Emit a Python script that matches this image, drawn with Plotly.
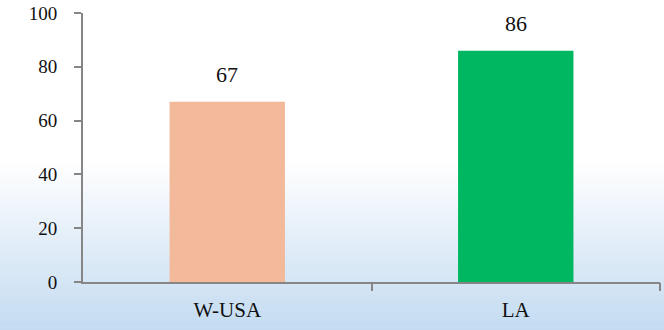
import plotly.graph_objects as go

# Data
categories = ["W-USA", "LA"]
values = [67, 86]
bar_colors = ["#F2BA9A", "#00B761"]
y_ticks = [0, 20, 40, 60, 80, 100]

FONT = "Liberation Serif"
AXIS_GRAY = "#868686"
TEXT = "#111111"

fig = go.Figure()
fig.add_trace(go.Bar(
    x=categories,
    y=values,
    marker=dict(color=bar_colors, line=dict(width=0)),
    width=0.4,
    cliponaxis=False,
    showlegend=False,
    hoverinfo="x+y",
))

# value labels sitting above each bar
annotations = [
    dict(x=c, y=v, xref="x", yref="y", text=str(v), showarrow=False,
         yanchor="bottom", yshift=13,
         font=dict(family=FONT, size=22, color=TEXT))
    for c, v in zip(categories, values)
]

# Soft vertical gradient in the lower half of the background (white -> pale blue)
n_steps = 60
top_py, bot_py = 160.0, 330.0
plot_top, plot_bot = 13.0, 282.0
plot_h = plot_bot - plot_top
c0 = (255, 255, 255)
c1 = (196, 219, 241)
shapes = []
for i in range(n_steps):
    py0 = top_py + (bot_py - top_py) * i / n_steps
    py1 = top_py + (bot_py - top_py) * (i + 1) / n_steps + 0.6
    t = (i + 0.5) / n_steps
    col = tuple(round(a + (b - a) * t) for a, b in zip(c0, c1))
    shapes.append(dict(
        type="rect", xref="paper", yref="paper",
        x0=-0.2, x1=1.05,
        y0=(plot_bot - py1) / plot_h, y1=(plot_bot - py0) / plot_h,
        fillcolor="rgb(%d,%d,%d)" % col, line=dict(width=0), layer="below",
    ))

fig.update_layout(
    width=664, height=330,
    margin=dict(l=83, r=4, t=13, b=48),
    paper_bgcolor="white",
    plot_bgcolor="rgba(0,0,0,0)",
    shapes=shapes,
    annotations=annotations,
    font=dict(family=FONT, color=TEXT),
    xaxis=dict(
        type="category",
        range=[-0.5, 1.5],
        showline=True, linecolor=AXIS_GRAY, linewidth=2,
        ticks="", showgrid=False, zeroline=False,
        tickfont=dict(family=FONT, size=21, color=TEXT),
        ticklabelstandoff=8,
    ),
    # overlay axis carrying only the boundary tick marks between categories
    xaxis2=dict(
        overlaying="x", side="bottom", anchor="y",
        range=[-0.5, 1.5],
        tickmode="array", tickvals=[0.5, 1.5], ticktext=["", ""],
        ticks="outside", ticklen=8, tickwidth=2, tickcolor=AXIS_GRAY,
        showline=False, showgrid=False, zeroline=False,
    ),
    yaxis=dict(
        range=[0, 100],
        tickmode="array", tickvals=y_ticks,
        ticks="outside", ticklen=7, tickwidth=2, tickcolor=AXIS_GRAY,
        showline=True, linecolor=AXIS_GRAY, linewidth=2,
        showgrid=False, zeroline=False,
        tickfont=dict(family=FONT, size=19, color=TEXT),
        ticklabelstandoff=13,
    ),
)

# invisible helper trace so the overlay axis is drawn
fig.add_trace(go.Scatter(x=[-0.5, 1.5], y=[0, 0], xaxis="x2", yaxis="y",
                         mode="markers", marker=dict(opacity=0),
                         hoverinfo="skip", showlegend=False))

fig.write_html("out.html")
